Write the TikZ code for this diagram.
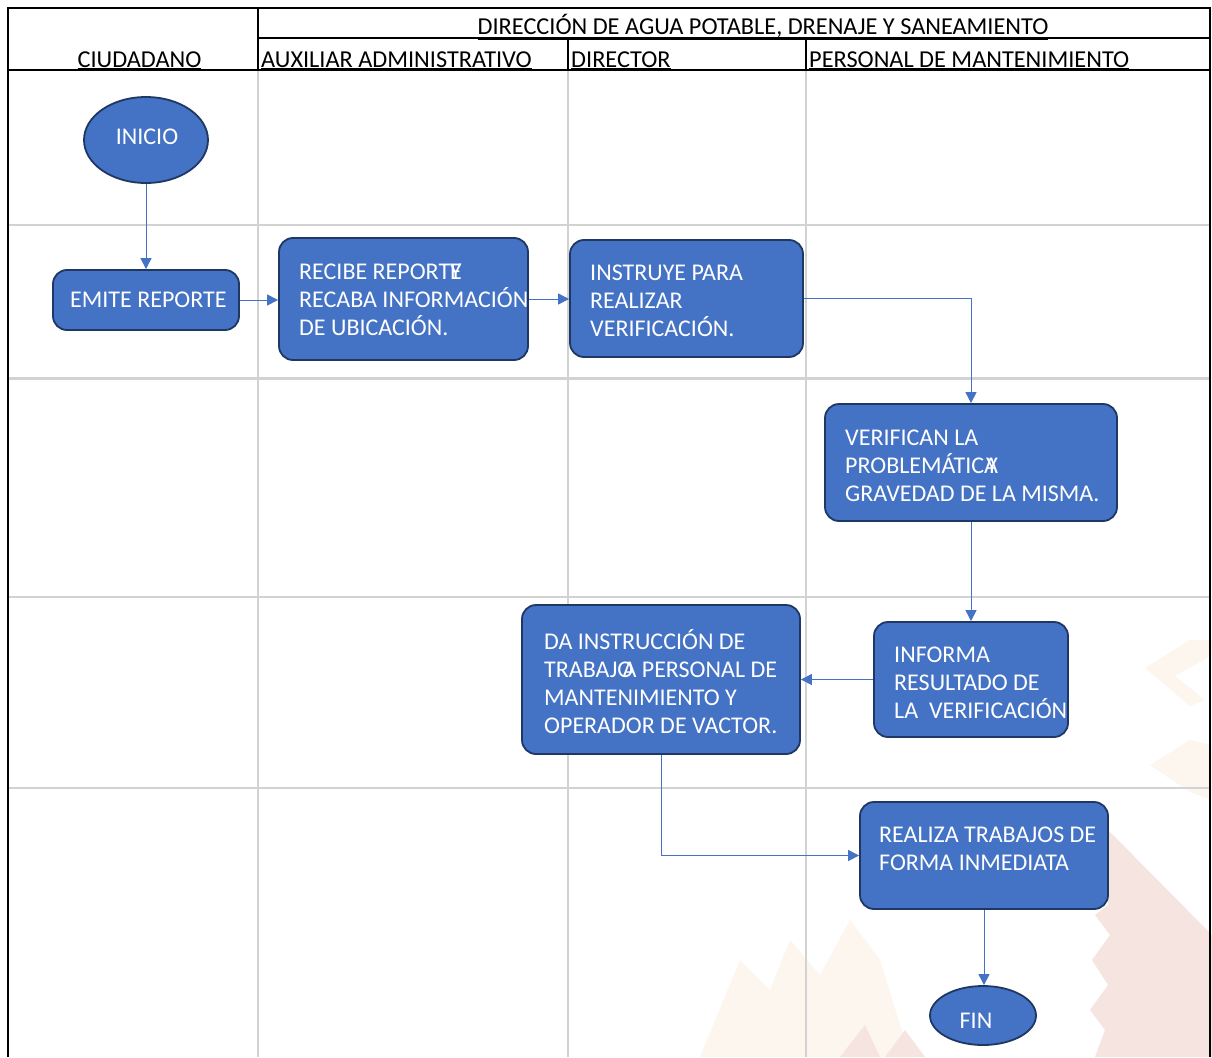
\documentclass[tikz,border=0pt]{standalone}
\usepackage{fontspec}
\setmainfont{Carlito}
\usetikzlibrary{arrows.meta,shapes.geometric}
\definecolor{boxfill}{HTML}{4472C4}
\definecolor{boxline}{HTML}{1F3763}
\definecolor{arrowc}{HTML}{4472C4}
\definecolor{gridc}{HTML}{D2D2D2}
\definecolor{wmbeige}{HTML}{FDF6EE}
\definecolor{wmpink}{HTML}{F6E4E0}
\begin{document}
\begin{tikzpicture}[x=1pt,y=-1pt,
  box/.style={draw=boxline, line width=1.8pt, fill=boxfill, rounded corners=14pt, inner sep=0pt},
  oval/.style={ellipse, draw=boxline, line width=1.8pt, fill=boxfill, inner sep=0pt},
  txt/.style={text=white, font=\fontsize{24}{28}\selectfont, align=left, inner sep=0pt, anchor=west},
  hdr/.style={font=\fontsize{24.3}{28}\selectfont, inner sep=0pt, anchor=base west},
  flow/.style={draw=arrowc, line width=1pt, -{Triangle[length=11pt,width=11pt]}},
  gridl/.style={draw=gridc, line width=2pt},
  frame/.style={draw=black, line width=2pt}]
\useasboundingbox[fill=white] (0,0) rectangle (1212,1057);

% faint watermark
\fill[wmbeige] (1145,668) -- (1190,640) -- (1212,640) -- (1212,655) -- (1175,676) -- (1205,700) -- (1190,706) -- cycle;
\fill[wmbeige] (1150,765) -- (1190,740) -- (1212,745) -- (1212,800) -- (1190,792) -- cycle;
\fill[wmpink] (1108,830) -- (1212,935) -- (1212,1057) -- (1095,1057) -- (1105,1030) -- (1090,1010) -- (1108,985) -- (1092,960) -- (1110,935) -- (1095,915) -- (1108,905) -- cycle;
\fill[wmbeige] (700,1057) -- (740,960) -- (770,990) -- (790,940) -- (820,975) -- (850,920) -- (880,960) -- (910,1057) -- cycle;
\fill[wmpink] (840,1057) -- (865,1025) -- (880,1057) -- cycle;
\fill[wmpink] (885,1057) -- (905,1030) -- (925,1057) -- cycle;

% grid
\draw[gridl] (258,70) -- (258,1057);
\draw[gridl] (568,70) -- (568,1057);
\draw[gridl] (806,70) -- (806,1057);
\draw[gridl] (8,225) -- (1210,225);
\draw[gridl, line width=3pt] (8,378) -- (1210,378);
\draw[gridl] (8,597) -- (1210,597);
\draw[gridl] (8,788) -- (1210,788);

% frame
\draw[frame] (8,1057) -- (8,8) -- (1210,8) -- (1210,1057);
\draw[frame] (258,8) -- (258,70);
\draw[frame] (258,38) -- (1210,38);
\draw[frame] (568,38) -- (568,70);
\draw[frame] (806,38) -- (806,70);
\draw[frame, line width=2.5pt] (8,70) -- (1210,70);

% headers
\node[hdr, anchor=base] (hciud) at (139.5,67) {\underline{CIUDADANO}};
\node[hdr, anchor=base] (hdir) at (763,35) {\underline{DIRECCIÓN DE AGUA POTABLE, DRENAJE Y SANEAMIENTO}};
\node[hdr] (haux) at (261,67) {\underline{AUXILIAR ADMINISTRATIVO}};
\node[hdr] (hdirector) at (571,67) {\underline{DIRECTOR}};
\node[hdr] (hpers) at (809,67) {\underline{PERSONAL DE MANTENIMIENTO}};

% shapes
\node[oval, minimum width=124pt, minimum height=86pt] (inicio) at (146,140) {};
\node[box, minimum width=186pt, minimum height=60pt] (emite) at (146,300) {};
\node[box, minimum width=249pt, minimum height=122pt] (recibe) at (403.5,299) {};
\node[box, minimum width=233pt, minimum height=117pt] (instruye) at (686.5,298.5) {};
\node[box, minimum width=292pt, minimum height=117pt] (verifican) at (971,462.5) {};
\node[box, minimum width=278pt, minimum height=149pt] (da) at (661,679.5) {};
\node[box, minimum width=194pt, minimum height=115pt] (informa) at (971,679.5) {};
\node[box, minimum width=248pt, minimum height=107pt] (realiza) at (984,855.5) {};
\node[oval, minimum width=106pt, minimum height=59pt] (fin) at (983,1015.5) {};

% texts
\node[txt, anchor=center] (tinicio) at (147,137) {INICIO};
\node[txt] (temite) at (70,300) {EMITE REPORTE};
\node[txt] (trecibe) at (299,300) {RECIBE REPORTE\kern-.5em Y\\RECABA INFORMACIÓN\\DE UBICACIÓN.};
\node[txt] (tinstruye) at (590,301) {INSTRUYE PARA\\REALIZAR\\VERIFICACIÓN.};
\node[txt] (tverifican) at (845,466) {VERIFICAN LA\\PROBLEMÁTICA\kern-.5em Y\\GRAVEDAD DE LA MISMA.};
\node[txt] (tda) at (544,682) {DA INSTRUCCIÓN DE\\TRABAJO\kern-.45em A PERSONAL DE\\MANTENIMIENTO Y\\OPERADOR DE VACTOR.};
\node[txt] (tinforma) at (894,683) {INFORMA\\RESULTADO DE\\LA\ \ VERIFICACIÓN};
\node[txt] (trealiza) at (879,849) {REALIZA TRABAJOS DE\\FORMA INMEDIATA};
\node[txt, anchor=center] (tfin) at (976,1021) {FIN};

% connectors
\draw[flow] (inicio.south) -- (emite.north);
\draw[flow] (emite.east) -- (emite.east -| recibe.west);
\draw[flow] (recibe.east) -- (recibe.east -| instruye.west);
\draw[flow] (instruye.east) -| (verifican.north);
\draw[flow] (verifican.south) -- (informa.north);
\draw[flow] (informa.west) -- (da.east);
\draw[flow] (da.south) |- (realiza.west);
\draw[flow] (realiza.south) -- (realiza.south |- fin.north);
\end{tikzpicture}
\end{document}
